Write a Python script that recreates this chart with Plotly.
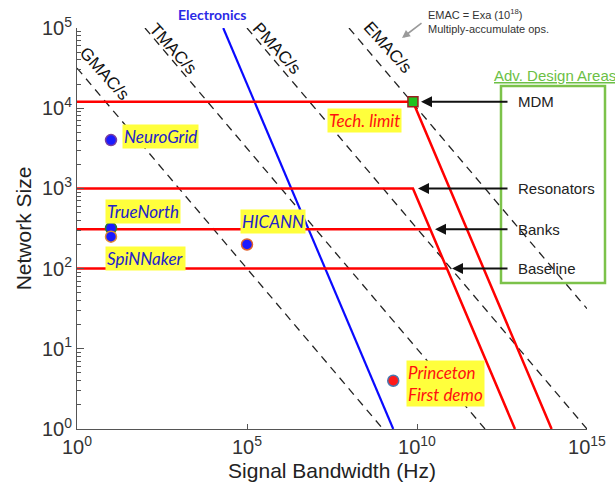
import math
import plotly.graph_objects as go

# ---------------- data ----------------
mac_levels = [1e9, 1e12, 1e15, 1e18]
mac_names = ["GMAC/s", "TMAC/s", "PMAC/s", "EMAC/s"]

electronics_B = [2e4, 2e9]
electronics_N = [1e5, 1]

tech_B = [1, 7.6e9, 9.1e13]
tech_N = [1.2e4, 1.2e4, 1]
resonators_B = [1, 7.6e9, 7.6e12]
resonators_N = [1e3, 1e3, 1]
banks_B = [1, 2.45e10]
banks_N = [310, 310]
baseline_B = [1, 7.6e10]
baseline_N = [100, 100]

mdm_B = [7.6e9]
mdm_N = [1.2e4]

chips = ["NeuroGrid", "TrueNorth", "SpiNNaker", "HICANN", "Princeton"]
chip_B = [10, 10, 10, 1e5, 2e9]
chip_N = [4000, 320, 250, 200, 4]
chip_fill = ["#1a1aff", "#1a1aff", "#1a1aff", "#1a1aff", "#ff1a1a"]
chip_edge = ["#7a3fa0", "#2f7a2f", "#e08a30", "#e0602a", "#4a78b0"]

x_tickvals = [1, 1e5, 1e10, 1e15]
x_ticktext = ["10<sup>0</sup>", "10<sup>5</sup>", "10<sup>10</sup>", "10<sup>15</sup>"]
y_tickvals = [1, 10, 100, 1e3, 1e4, 1e5]
y_ticktext = ["10<sup>0</sup>", "10<sup>1</sup>", "10<sup>2</sup>", "10<sup>3</sup>",
              "10<sup>4</sup>", "10<sup>5</sup>"]

# ---------------- layout geometry ----------------
W, H = 615, 491
ML, MR, MT, MB = 77, 28, 28, 62
PW, PH = W - ML - MR, H - MT - MB


def px(xp):
    return (xp - ML) / PW


def py(yp):
    return (H - MB - yp) / PH


fig = go.Figure()

# iso-MAC dashed lines
for lvl in mac_levels:
    b0 = max(1.0, lvl / 1e10)
    b1 = min(1e15, lvl)
    fig.add_trace(go.Scatter(
        x=[b0, b1], y=[math.sqrt(lvl / b0), math.sqrt(lvl / b1)],
        mode="lines", line=dict(color="#222222", width=1.3, dash="8px,6px"),
        hoverinfo="skip"))

# electronics
fig.add_trace(go.Scatter(x=electronics_B, y=electronics_N, mode="lines",
                         line=dict(color="#0a0aff", width=2.2), hoverinfo="skip"))

# red lines
for bx, ny in [(tech_B, tech_N), (resonators_B, resonators_N),
               (banks_B, banks_N), (baseline_B, baseline_N)]:
    fig.add_trace(go.Scatter(x=bx, y=ny, mode="lines",
                             line=dict(color="#ff0000", width=2.5), hoverinfo="skip"))

# chips
fig.add_trace(go.Scatter(x=chip_B, y=chip_N, mode="markers",
                         marker=dict(size=11, color=chip_fill,
                                     line=dict(color=chip_edge, width=1.5)),
                         text=chips, hoverinfo="text"))

# MDM square
fig.add_trace(go.Scatter(x=mdm_B, y=mdm_N, mode="markers",
                         marker=dict(symbol="square", size=10, color="#1fc21f",
                                     line=dict(color="#9a2020", width=1.5)),
                         hoverinfo="skip"))

ann = []
C = dict(xanchor="center", yanchor="middle")
L = dict(xanchor="left", yanchor="middle")

# iso-line labels
iso_label_pos = [(104, 74), (173, 48), (277, 48), (388, 47)]
for name, (xp, yp) in zip(mac_names, iso_label_pos):
    ann.append(dict(xref="paper", yref="paper", x=px(xp), y=py(yp), text=name,
                    showarrow=False, textangle=48,
                    font=dict(family="Liberation Sans", size=17, color="#111111"), **C))

# Electronics label
ann.append(dict(xref="paper", yref="paper", x=px(212), y=py(15), text="<b>Electronics</b>",
                showarrow=False, font=dict(family="Lato", size=14, color="#2a2ae6"), **C))

# EMAC note
ann.append(dict(xref="paper", yref="paper", x=px(426), y=py(21),
                text="EMAC = Exa (10<sup>18</sup>)<br>Multiply-accumulate ops.",
                align="left", showarrow=False,
                font=dict(family="Liberation Sans", size=11, color="#333333"), **L))
ann.append(dict(xref="paper", yref="paper", x=px(402), y=py(38), text="",
                showarrow=True, ax=21, ay=-16, arrowhead=2, arrowsize=1,
                arrowwidth=1.6, arrowcolor="#9a9a9a"))

# yellow chip labels
blue_font = dict(family="Lato", size=17, color="#2222cc")
red_font = dict(family="Lato", size=17, color="#ff1010")
for txt, xp, yp, fnt in [("<i>NeuroGrid</i>", 122, 137, blue_font),
                         ("<i>TrueNorth</i>", 105, 211, blue_font),
                         ("<i>SpiNNaker</i>", 105, 258, blue_font),
                         ("<i>HICANN</i>", 240, 221, blue_font),
                         ("<i>Tech. limit</i>", 327, 120, red_font),
                         ("<i>Princeton<br>First demo</i>", 406, 383, red_font)]:
    ann.append(dict(xref="paper", yref="paper", x=px(xp), y=py(yp), text=txt,
                    align="left", font=fnt, showarrow=False, bgcolor="#ffff3c",
                    borderpad=1, **L))

# right-hand labels and arrows
arrow_labels = ["MDM", "Resonators", "Banks", "Baseline"]
arrow_N = [mdm_N[0], resonators_N[1], banks_N[1], baseline_N[1]]
arrow_head_px = [421, 418, 435, 452]
for lab, nv, hx in zip(arrow_labels, arrow_N, arrow_head_px):
    ann.append(dict(xref="paper", yref="y", x=px(hx), y=math.log10(nv), text="",
                    showarrow=True, ax=509 - hx, ay=0, arrowhead=2, arrowsize=1.1,
                    arrowwidth=2, arrowcolor="#111111"))
    ann.append(dict(xref="paper", yref="y", x=px(516), y=math.log10(nv), text=lab,
                    showarrow=False,
                    font=dict(family="Liberation Sans", size=15, color="#222222"), **L))

# Adv. Design Areas
ann.append(dict(xref="paper", yref="paper", x=px(492), y=py(75),
                text="<u>Adv. Design Areas</u>", showarrow=False,
                font=dict(family="Liberation Sans", size=15, color="#6cbf45"), **L))

shapes = [dict(type="rect", xref="paper", yref="paper", x0=px(501), x1=px(605),
               y0=py(283), y1=py(86), line=dict(color="#7cc24a", width=2.5),
               fillcolor="rgba(0,0,0,0)", layer="above")]

axis_common = dict(type="log", showgrid=False, zeroline=False, showline=True,
                   linecolor="#555555", linewidth=1, ticks="inside",
                   tickcolor="#555555", mirror=False, automargin=False,
                   tickfont=dict(family="Liberation Sans", size=20, color="#333333"))

y_minor = [m * 10 ** d for d in range(5) for m in range(2, 10)]

fig.update_layout(
    width=W, height=H, margin=dict(l=ML, r=MR, t=MT, b=MB, autoexpand=False),
    paper_bgcolor="white", plot_bgcolor="white", showlegend=False,
    xaxis=dict(range=[0, 15], tickvals=x_tickvals, ticktext=x_ticktext, ticklen=5,
               title=dict(text="Signal Bandwidth (Hz)", standoff=6,
                          font=dict(family="Liberation Sans", size=21, color="#222222")),
               **axis_common),
    yaxis=dict(range=[0, 5], tickvals=y_tickvals, ticktext=y_ticktext, ticklen=7,
               minor=dict(tickvals=y_minor, ticks="inside", ticklen=4, tickcolor="#555555"),
               title=dict(text="Network Size", standoff=4,
                          font=dict(family="Liberation Sans", size=21, color="#222222")),
               **axis_common),
    annotations=ann, shapes=shapes,
)

fig.write_html("out.html", config={"displayModeBar": False},
               post_script="document.body.style.margin='0';"
                           "document.body.style.overflow='hidden';")
